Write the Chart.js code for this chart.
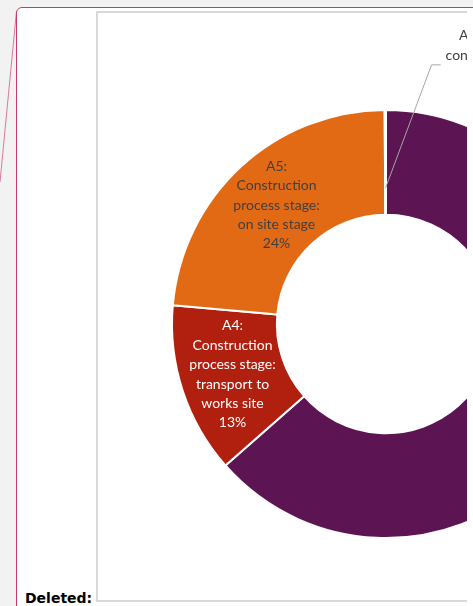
<!DOCTYPE html>
<html>
<head>
<meta charset="utf-8">
<script src="https://cdn.jsdelivr.net/npm/chart.js@4.4.1/dist/chart.umd.min.js"></script>
<style>
  html, body { margin: 0; padding: 0; width: 473px; height: 606px; overflow: hidden; background: #f2f2f2; }
  #comment { position: absolute; left: 16px; top: 7px; width: 600px; height: 700px; border: 1.5px solid #c83c5c; border-radius: 6px; background: #fff; box-sizing: border-box; }
  #connector { position: absolute; left: 0; top: 0; }
  #clip { position: absolute; left: 96px; top: 11px; width: 371px; height: 591px; overflow: hidden; background: #fff; }
  #frame { position: absolute; left: 0; top: 0; width: 600px; height: 591px; border: 2px solid #d9d9d9; box-sizing: border-box; }
  #chart { position: absolute; left: 2px; top: 1px; }
  #deleted { position: absolute; left: 25px; top: 590px; font: bold 14px 'DejaVu Sans', sans-serif; line-height: 16px; color: #000; }
</style>
</head>
<body>
<svg id="connector" width="40" height="200"><line x1="16.5" y1="11" x2="0" y2="182" stroke="#d87b90" stroke-width="1"/></svg>
<div id="comment"></div>
<div id="clip">
  <div id="frame"></div>
  <canvas id="chart" width="576" height="624"></canvas>
</div>
<div id="deleted">Deleted:</div>
<script>
// life cycle modules, lines as wrapped in the original labels
const categories = [
  ['A1-A3:', 'Product stage'],
  ['A4:', 'Construction', 'process stage:', 'transport to', 'works site'],
  ['A5:', 'Construction', 'process stage:', 'on site stage'],
  ['A0: Pre-', 'construction', 'stage']
];
const values = [63.5, 12.9, 23.5, 0.1];
const sliceColors = ['#5c1452', '#b1200e', '#e36a14', '#4f8a2b'];
const labelColors = ['#ffffff', '#ffffff', '#404040', '#404040'];
const outsideLabel = [false, false, false, true];

const sliceLabels = {
  id: 'sliceLabels',
  afterDatasetsDraw: function(chart) {
    const ctx = chart.ctx;
    const meta = chart.getDatasetMeta(0);
    const total = values.reduce(function(a, b) { return a + b; }, 0);
    const lh = 19.4;
    ctx.save();
    ctx.font = '14px Lato';
    ctx.textBaseline = 'middle';
    ctx.textAlign = 'center';
    meta.data.forEach(function(arc, i) {
      const lines = categories[i].concat([Math.round(values[i] / total * 100) + '%']);
      ctx.fillStyle = labelColors[i];
      if (outsideLabel[i]) {
        const a = (arc.startAngle + arc.endAngle) / 2;
        const r = arc.innerRadius + 27;
        const sx = arc.x + Math.cos(a) * r;
        const sy = arc.y + Math.sin(a) * r;
        const ex = sx + 46, ey = sy - 123;
        ctx.strokeStyle = '#a6a6a6';
        ctx.lineWidth = 1;
        ctx.beginPath();
        ctx.moveTo(sx, sy);
        ctx.lineTo(ex, ey);
        ctx.lineTo(ex + 9, ey);
        ctx.stroke();
        let w = 0;
        lines.forEach(function(t) { w = Math.max(w, ctx.measureText(t).width); });
        const cx = ex + 14 + w / 2;
        const y0 = ey - (lines.length - 1) * lh / 2;
        lines.forEach(function(t, k) { ctx.fillText(t, cx, y0 + k * lh); });
      } else {
        const pos = arc.tooltipPosition();
        const y0 = pos.y - (lines.length - 1) * lh / 2;
        lines.forEach(function(t, k) { ctx.fillText(t, pos.x, y0 + k * lh); });
      }
    });
    ctx.restore();
  }
};

new Chart(document.getElementById('chart'), {
  type: 'doughnut',
  data: {
    labels: categories,
    datasets: [{
      data: values,
      backgroundColor: sliceColors,
      borderColor: '#ffffff',
      borderWidth: 2,
      radius: 214,
      cutout: '51%'
    }]
  },
  options: {
    responsive: false,
    animation: false,
    plugins: {
      legend: { display: false },
      tooltip: { enabled: false }
    }
  },
  plugins: [sliceLabels]
});
</script>
</body>
</html>
